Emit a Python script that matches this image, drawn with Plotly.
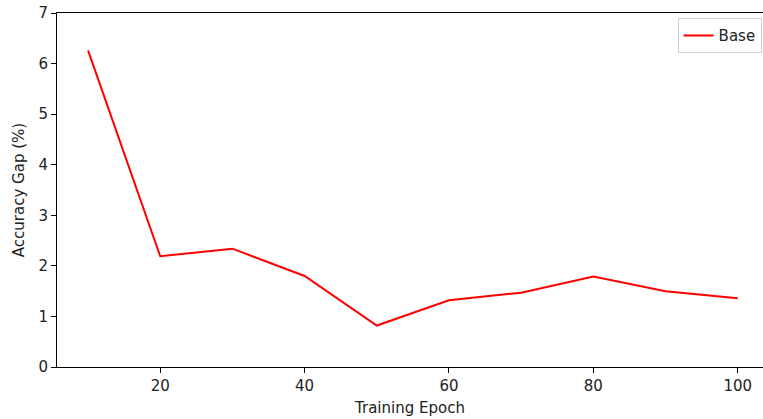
import plotly.graph_objects as go

epochs = [10, 20, 30, 40, 50, 60, 70, 80, 90, 100]
gap = [6.26, 2.19, 2.34, 1.80, 0.82, 1.32, 1.47, 1.79, 1.50, 1.36]
x_ticks = [20, 40, 60, 80, 100]
y_ticks = [0, 1, 2, 3, 4, 5, 6, 7]

tick_font = dict(family="DejaVu Sans", size=15, color="#222222")
title_font = dict(family="DejaVu Sans", size=15, color="#222222")

fig = go.Figure()
fig.add_trace(go.Scatter(x=epochs, y=gap, mode="lines", name="Base",
                         line=dict(color="red", width=2)))

fig.update_layout(
    width=763, height=419,
    margin=dict(l=57, r=0, t=13, b=52, autoexpand=False),
    paper_bgcolor="white", plot_bgcolor="white",
    font=tick_font,
    showlegend=True,
    legend=dict(x=0.998, xanchor="right", y=0.985, yanchor="top",
                bordercolor="#d0d0d0", borderwidth=1, bgcolor="white",
                font=tick_font),
)
fig.update_xaxes(range=[5.7, 103.5], tickvals=x_ticks, showgrid=False, zeroline=False,
                 showline=True, linecolor="black", linewidth=1, mirror=True,
                 ticks="outside", ticklen=5, tickcolor="black", automargin=False,
                 tickfont=tick_font,
                 title=dict(text="Training Epoch", standoff=8, font=title_font))
fig.update_yaxes(range=[0, 7], tickvals=y_ticks, showgrid=False, zeroline=False,
                 showline=True, linecolor="black", linewidth=1,
                 ticks="outside", ticklen=5, tickcolor="black", automargin=False,
                 tickfont=tick_font,
                 title=dict(text="Accuracy Gap (%)", standoff=10, font=title_font))
fig.write_html("out.html", config={"displayModeBar": False},
               post_script="document.body.style.margin='0';")
